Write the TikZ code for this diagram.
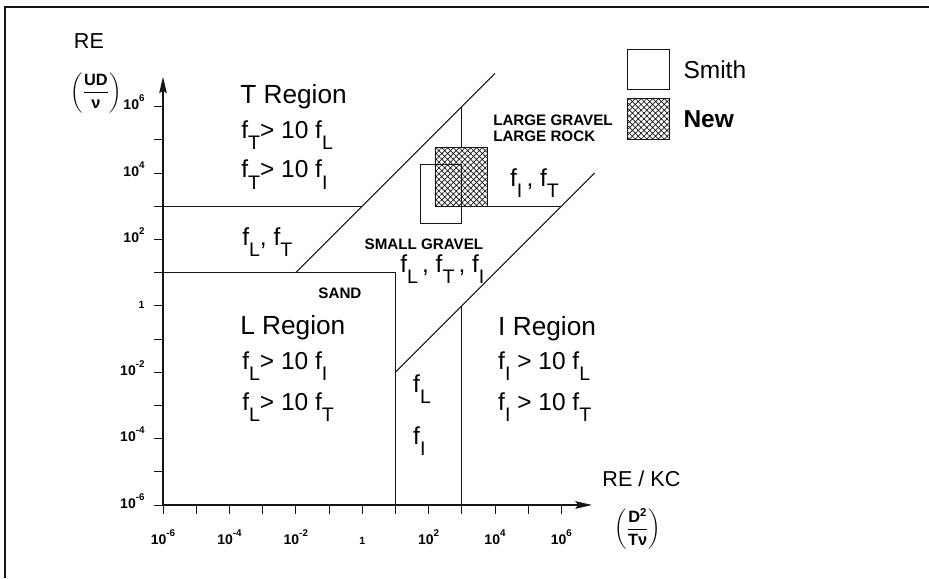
\documentclass[tikz,border=0pt]{standalone}
\usepackage{fontspec}
\setmainfont{Liberation Sans}
\usepackage{amsmath}
\usepackage{graphicx}
\usepackage{tikz}
\usetikzlibrary{arrows.meta,positioning,patterns.meta}
\definecolor{ink}{HTML}{151515}
\newcommand{\fsb}[1]{f\raisebox{-0.45em}{\scalebox{0.8}{#1}}}
\newcommand{\dec}[1]{10\raisebox{0.55em}{\scalebox{0.7}{#1}}}
\tikzset{
  bound/.style={draw=ink,line width=0.9pt},
  axisline/.style={draw=ink,line width=1.1pt,-{Stealth[length=5mm,width=2.3mm,inset=0.8mm]}},
  tickmark/.style={draw=ink,line width=0.7pt},
  ticklab/.style={inner sep=0pt,font=\bfseries\fontsize{12}{14}\selectfont},
  regiontitle/.style={anchor=base west,inner sep=0pt,font=\fontsize{22.5}{24}\selectfont},
  freq/.style={anchor=base west,inner sep=0pt,font=\fontsize{21}{24}\selectfont},
  grain/.style={inner sep=0pt,align=left,font=\bfseries\fontsize{13}{13.7}\selectfont},
  hatched/.style={pattern={Hatch[angle=45,distance=3.5pt,line width=0.6pt]},pattern color=ink},
  keybox/.style={draw=ink,line width=0.6pt,minimum width=1.24cm,minimum height=1.22cm,inner sep=0pt},
  legendlab/.style={anchor=west,inner sep=0pt,font=\fontsize{21}{24}\selectfont},
  axislab/.style={inner sep=0pt,font=\fontsize{18.5}{20}\selectfont},
  fraclab/.style={inner sep=0pt,font=\bfseries\fontsize{14}{16}\selectfont}
}

\begin{document}
\begin{tikzpicture}[x=1cm,y=1cm]
  \useasboundingbox (-10.910,-8.199) rectangle (17.072,9.211);
  % frame (top and left only)
  \draw[ink,line width=1.4pt] (-10.76,-8.199) -- (-10.76,9.0) -- (17.072,9.0);

  % axes, one unit per decade
  \coordinate (origin) at (-6,-6);
  \coordinate (ytip) at (-6,6.9);
  \coordinate (xtip) at (6.92,-6);
  \draw[axisline] (origin) -- (ytip);
  \draw[axisline] (origin) -- (xtip);
  \foreach \k in {-6,...,6} {
    \draw[tickmark] (-6,\k) -- ++(-0.27,0);
    \draw[tickmark] (\k,-6) -- ++(0,-0.27);
  }
  \foreach \k/\e in {-6/-6,-4/-4,-2/-2,2/2,4/4,6/6} {
    \node[ticklab,anchor=mid east] (ylab\e) at (-6.55,\k) {\dec{\e}};
    \node[ticklab,anchor=mid] (xlab\e) at (\k,-7.1) {\dec{\e}};
  }
  \node[ticklab,anchor=mid east,font=\bfseries\fontsize{9}{10}\selectfont] (ylabone) at (-6.55,0) {1};
  \node[ticklab,anchor=mid,font=\bfseries\fontsize{9}{10}\selectfont] (xlabone) at (0,-7.1) {1};

  \node[axislab] (yname) at (-8.23,7.98) {RE};
  \node[fraclab] (yunit) at (-8.02,6.42) {$\left(\dfrac{\text{UD}}{\text{ν}}\right)$};
  \node[axislab] (xname) at (8.41,-5.2) {RE / KC};
  \node[fraclab] (xunit) at (8.3,-6.72) {$\left(\dfrac{\text{D\textsuperscript{2}}}{\text{Tν}}\right)$};

  % region boundaries
  \coordinate (sandtop) at (-6,1);
  \coordinate (sandcorner) at (1,1);
  \coordinate (sandfoot) at (1,-6);
  \draw[bound] (sandtop) -- (sandcorner) -- (sandfoot);
  \coordinate (upA) at (-2,1);
  \coordinate (upB) at (4,7);
  \draw[bound] (upA) -- (upB);
  \coordinate (loA) at (1,-2);
  \coordinate (loB) at (7,4);
  \draw[bound] (loA) -- (loB);
  \draw[bound] (-6,3) -- (0,3);
  \draw[bound] (3.76,3) -- (6,3);
  \draw[bound] (3,-6) -- (3,0);
  \draw[bound] (3,6) -- (3,4.78);

  % data boxes
  \path[hatched,draw=ink,line width=0.6pt] (2.19,3) rectangle (3.76,4.78);
  \draw[ink,line width=0.6pt] (1.74,2.49) rectangle (3,4.27);

  % legend
  \node[keybox] (smithkey) at (8.62,7.12) {};
  \node[keybox,hatched] (newkey) at (8.62,5.63) {};
  \node[legendlab,right=0.42cm of smithkey] (smithlab) {Smith};
  \node[legendlab,right=0.42cm of newkey] (newlab) {\bfseries New};

  % region texts
  \node[regiontitle] (tregion) at (-3.68,6.08) {T Region};
  \node[freq] (tdomL) at (-3.65,5.05) {\fsb{T}> 10 \fsb{L}};
  \node[freq] (tdomI) at (-3.65,3.85) {\fsb{T}> 10 \fsb{I}};
  \node[freq] (ltmix) at (-3.62,1.83) {\fsb{L}, \fsb{T}};
  \node[grain] (sand) at (-0.67,0.38) {SAND};
  \node[regiontitle] (lregion) at (-3.68,-0.85) {L Region};
  \node[freq] (ldomI) at (-3.62,-1.93) {\fsb{L}> 10 \fsb{I}};
  \node[freq] (ldomT) at (-3.62,-3.14) {\fsb{L}> 10 \fsb{T}};
  \node[grain] (smallgravel) at (1.86,1.86) {SMALL GRAVEL};
  \node[freq] (allmix) at (1.14,0.99) {\fsb{L}\,, \fsb{T}\,, \fsb{I}};
  \node[grain,anchor=west] (largegravel) at (3.94,5.34) {LARGE GRAVEL\\LARGE ROCK};
  \node[freq] (itmix) at (4.45,3.58) {\fsb{I}\,, \fsb{T}};
  \node[regiontitle] (iregion) at (4.09,-0.88) {I Region};
  \node[freq] (idomL) at (4.09,-1.93) {\fsb{I} > 10 \fsb{L}};
  \node[freq] (idomT) at (4.09,-3.14) {\fsb{I} > 10 \fsb{T}};
  \node[freq] (lmid) at (1.53,-2.6) {\fsb{L}};
  \node[freq] (imid) at (1.53,-4.19) {\fsb{I}};
\end{tikzpicture}
\end{document}
